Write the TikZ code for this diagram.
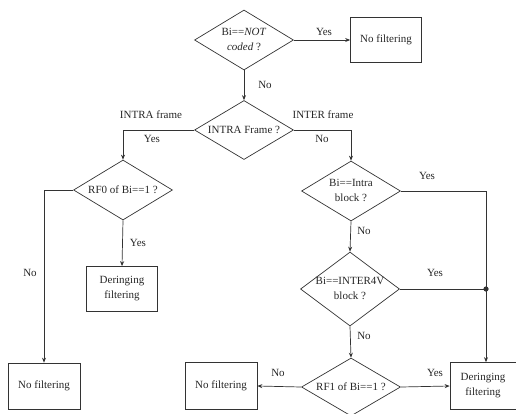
\documentclass[tikz,border=0pt]{standalone}
\usepackage{fontspec}
\setmainfont{Liberation Serif}
\usetikzlibrary{shapes.geometric,arrows.meta}

% two-line text that does not widen its diamond
\newcommand{\dlines}[2]{\makebox[0pt]{\begin{tabular}{@{}c@{}}#1\\#2\end{tabular}}}

\begin{document}
\begin{tikzpicture}[x=1pt,y=-1pt,
  every node/.style={font=\fontsize{11}{15}\selectfont, text=black!85},
  dec/.style={diamond, draw=black!80, line width=0.7pt, inner sep=0pt,
    aspect=1.65, minimum width=99pt, minimum height=60pt},
  act/.style={rectangle, draw=black!80, line width=0.7pt, align=center,
    minimum width=71pt, minimum height=45pt, inner sep=1pt},
  flow/.style={draw=black!80, line width=0.7pt, -{Stealth[length=5pt,width=4pt]}},
  wire/.style={draw=black!80, line width=0.7pt},
  lbl/.style={inner sep=0pt}
]
\useasboundingbox (0,0) rectangle (516,413);

% decisions
\node[dec] (notcoded) at (244,40) {\dlines{Bi==\textit{NOT}}{\textit{coded} ?}};
\node[dec, minimum height=59pt] (frame) at (244,130) {\makebox[0pt]{INTRA Frame ?}};
\node[dec] (rf0) at (123,190) {\makebox[0pt]{RF0 of Bi==1 ?}};
\node[dec] (intrablk) at (351,191) {\dlines{Bi==Intra}{block ?}};
\node[dec, minimum height=74pt] (inter4v) at (350,289) {\dlines{Bi==INTER4V}{block ?}};
\node[dec, minimum height=58pt] (rf1) at (351,387) {\makebox[0pt]{RF1 of Bi==1 ?}};

% actions
\node[act] (nofilt1) at (386,40) {No filtering};
\node[act] (dering1) at (122,289) {Deringing\\filtering};
\node[act, minimum width=72pt, minimum height=46pt] (nofilt2) at (44,386) {No filtering};
\node[act, minimum width=72pt, minimum height=47pt] (nofilt3) at (221,386) {No filtering};
\node[act, minimum width=66pt, minimum height=47pt] (dering2) at (483,386) {Deringing\\filtering};

\coordinate (join) at (486,289);

% connectors
\draw[flow] (notcoded.east) -- (nofilt1.west);
\draw[flow] (notcoded.south) -- (frame.north);
\draw[flow] (frame.west) -| (rf0.north);
\draw[flow] (frame.east) -| (intrablk.north);
\draw[flow] (rf0.west) -| (nofilt2.north);
\draw[flow] (rf0.south) -- (dering1.north);
\draw[flow] (intrablk.south) -- (inter4v.north);
\draw[flow] (inter4v.south) -- (rf1.north);
\draw[flow] (rf1.west) -- (nofilt3.east);
\draw[flow] (rf1.east) -- (dering2.west);
\draw[wire] (intrablk.east) -| (join);
\draw[wire] (inter4v.east) -- (join);
\draw[flow] (join) -- (join |- dering2.north);
\fill[black!80] (join) circle (2.6pt);

% branch labels
\node[lbl] at (324,32) {Yes};
\node[lbl] at (265,85) {No};
\node[lbl] at (151,115) {INTRA frame};
\node[lbl] at (152,139) {Yes};
\node[lbl] at (323,115) {INTER frame};
\node[lbl] at (322,139) {No};
\node[lbl] at (30,273) {No};
\node[lbl] at (138,243) {Yes};
\node[lbl] at (427,176) {Yes};
\node[lbl] at (364,231) {No};
\node[lbl] at (435,273) {Yes};
\node[lbl] at (364,336) {No};
\node[lbl] at (278,373) {No};
\node[lbl] at (435,373) {Yes};
\end{tikzpicture}
\end{document}
